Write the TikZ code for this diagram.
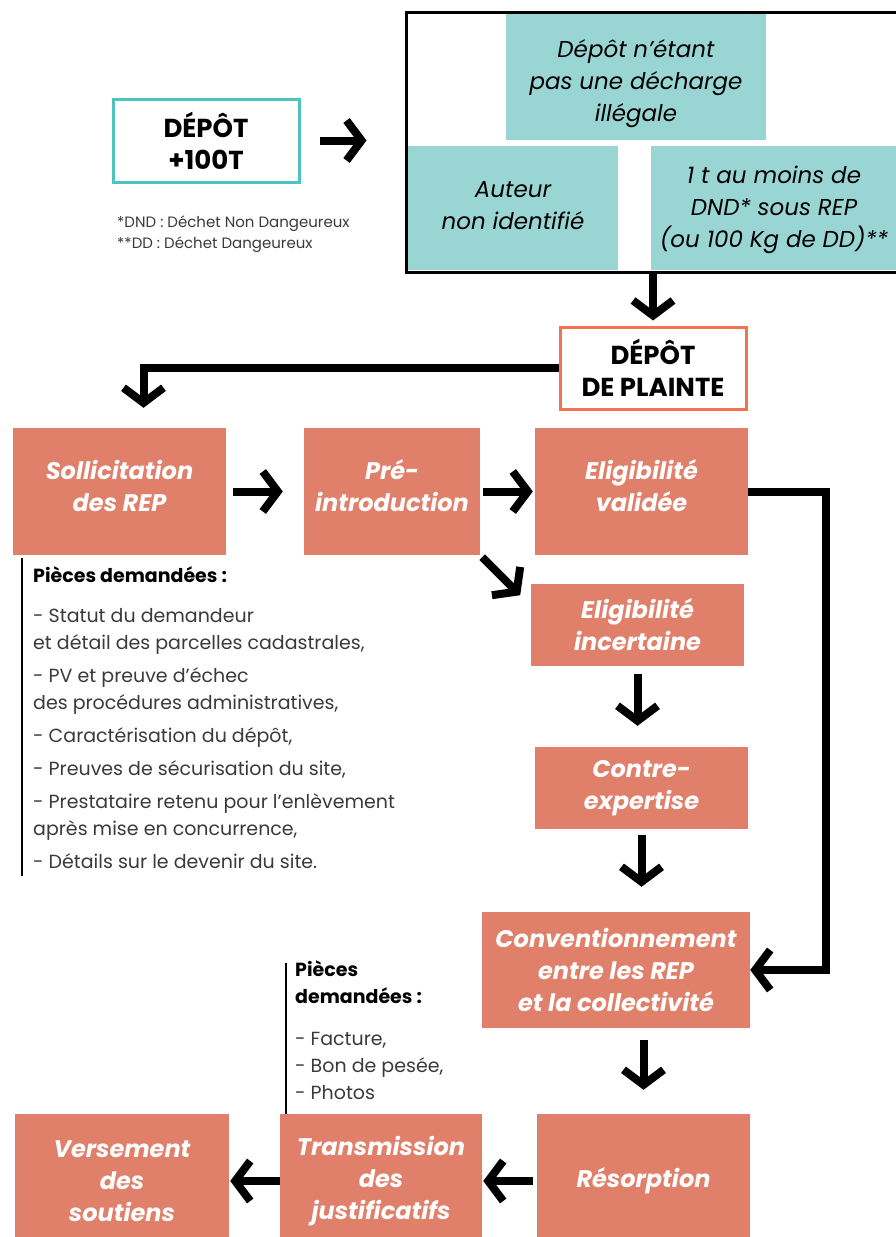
\documentclass[tikz,border=0pt]{standalone}
\usepackage{fontspec}
\setmainfont{Poppins}
\usetikzlibrary{arrows.meta}

\definecolor{saumon}{HTML}{E1806A}
\definecolor{turquoise}{HTML}{99D6D3}
\definecolor{turqbord}{HTML}{4DC4BF}
\definecolor{orangebord}{HTML}{F07452}
\definecolor{gristexte}{HTML}{3A3A3A}

\tikzset{
  etape/.style={fill=saumon, text=white, inner sep=0pt, align=center,
    font=\fontsize{24}{32}\selectfont\bfseries\itshape},
  critere/.style={fill=turquoise, inner sep=0pt},
  titre/.style={draw, line width=3pt, fill=white, inner sep=0pt, align=center,
    font=\fontsize{26}{32}\selectfont\bfseries},
  etiq/.style={inner sep=0pt, align=center, text=white,
    font=\fontsize{24}{32}\selectfont\bfseries\itshape},
  etiqnoire/.style={inner sep=0pt, align=center, text=black,
    font=\fontsize{23}{32}\selectfont\itshape},
  fleche/.style={line width=8pt, -{Straight Barb[length=15pt,width=40pt]}},
  liste/.style={inner sep=0pt, align=left, text=gristexte,
    font=\fontsize{19}{27}\selectfont},
}

\begin{document}
\begin{tikzpicture}[x=1pt, y=-1pt]
  \useasboundingbox[fill=white] (0,0) rectangle (895,1237);

  %%%%% haut %%%%%
  \node[titre, draw=turqbord, minimum width=186, minimum height=83] (plus) at (206,140.5) {DÉPÔT\\+100T};
  \node[draw, line width=3pt, inner sep=0pt, minimum width=500, minimum height=260] (cadre) at (656,142) {};
  \node[critere, minimum width=260, minimum height=126,
    label={[etiqnoire, yshift=-7pt]center:{Dépôt n'étant\\pas une décharge\\illégale}}] (decharge) at (636,77) {};
  \node[critere, minimum width=210, minimum height=124,
    label={[etiqnoire, yshift=2pt]center:{Auteur\\non identifié}}] (auteur) at (513,208) {};
  \node[critere, minimum width=246, minimum height=124,
    label={[etiqnoire, yshift=-2pt]center:{1 t au moins de\\DND* sous REP\\(ou 100 Kg de DD)**}}] (seuil) at (774,208) {};
  \node[anchor=base west, inner sep=0pt, text=gristexte, align=left,
    font=\fontsize{15}{21}\selectfont] (notes) at (117,248) {*DND : Déchet Non Dangeureux\\**DD : Déchet Dangeureux};

  \node[titre, draw=orangebord, minimum width=186, minimum height=82] (plainte) at (653,368) {DÉPÔT\\DE PLAINTE};

  %%%%% milieu %%%%%
  \node[etape, minimum width=213, minimum height=127,
    label={[etiq, yshift=6pt]center:{Sollicitation\\des REP}}] (sollicitation) at (119.5,491.5) {};
  \node[etape, minimum width=176, minimum height=127,
    label={[etiq, yshift=6pt]center:{Pré-\\introduction}}] (preintro) at (392,491.5) {};
  \node[etape, minimum width=213, minimum height=127,
    label={[etiq, yshift=6pt]center:{Eligibilité\\validée}}] (validee) at (641.5,491.5) {};
  \node[etape, minimum width=213, minimum height=82] (incertaine) at (637.5,625) {Eligibilité\\incertaine};
  \node[etape, minimum width=213, minimum height=82] (contre) at (641.5,788) {Contre-\\expertise};
  \node[etape, minimum width=268, minimum height=116] (convention) at (616,970) {Conventionnement\\entre les REP\\et la collectivité};

  %%%%% bas %%%%%
  \node[etape, minimum width=213, minimum height=134] (resorption) at (643.5,1181) {Résorption};
  \node[etape, minimum width=202, minimum height=134] (transmission) at (381,1181) {Transmission\\des\\justificatifs};
  \node[etape, minimum width=214, minimum height=134] (versement) at (122,1181) {Versement\\des\\soutiens};

  %%%%% pieces %%%%%
  \node[liste, anchor=base west] (pieces) at (33,868) {\textbf{\color{black}Pièces demandées :}\\[13pt]
    - Statut du demandeur\\et détail des parcelles cadastrales,\\[6pt]
    - PV et preuve d'échec\\des procédures administratives,\\[6pt]
    - Caractérisation du dépôt,\\[6pt]
    - Preuves de sécurisation du site,\\[6pt]
    - Prestataire retenu pour l'enlèvement\\après mise en concurrence,\\[6pt]
    - Détails sur le devenir du site.};
  \draw[line width=1.2pt] (22,558) -- (22,876);

  \node[liste, anchor=base west] (justifs) at (295,1099) {\textbf{\color{black}Pièces}\\\textbf{\color{black}demandées :}\\[15pt]
    - Facture,\\- Bon de pesée,\\- Photos};
  \draw[line width=1.2pt] (286,963) -- (286,1114);

  %%%%% fleches %%%%%
  \draw[fleche, shorten <=19pt, shorten >=38pt] (plus.east) -- (plus.east -| cadre.west);
  \draw[fleche, shorten >=5pt] (cadre.south -| plainte.north) -- (plainte.north);
  \draw[fleche, shorten >=20pt] (plainte.west) -| ([xshift=24pt]sollicitation.north);
  \draw[fleche, shorten <=7pt, shorten >=21pt] (sollicitation.east) -- (preintro.west);
  \draw[fleche, shorten <=3pt, shorten >=2pt] (preintro.east) -- (validee.west);
  \draw[fleche] ([shift={(2,2)}]preintro.south east) -- ++(38,38);
  \draw[fleche, shorten <=8pt, shorten >=21pt] (incertaine.south) -- (incertaine.south |- contre.north);
  \draw[fleche, shorten <=6pt, shorten >=25pt] (contre.south) -- (contre.south |- convention.north);
  \draw[fleche, shorten <=12pt, shorten >=24pt] (convention.south -| resorption.north) -- (resorption.north);
  \draw[fleche] (validee.east) -- ++(78,0) |- (convention.east);
  \draw[fleche, shorten <=4pt, shorten >=1pt] (resorption.west) -- (resorption.west -| transmission.east);
  \draw[fleche, shorten >=1pt] (transmission.west) -- (transmission.west -| versement.east);
\end{tikzpicture}
\end{document}
